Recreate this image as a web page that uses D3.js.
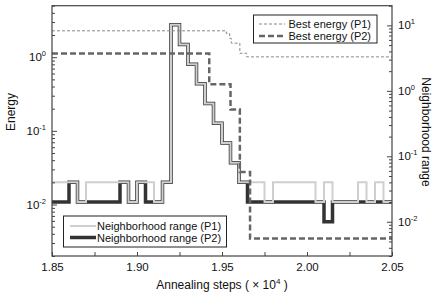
<!DOCTYPE html>
<html><head><meta charset="utf-8">
<script src="https://cdn.jsdelivr.net/npm/d3@7"></script>
<style>
body{margin:0;background:#fff;}
text{font-family:"Liberation Sans",Arial,sans-serif;fill:#111;}
</style></head>
<body><svg id="c" width="432" height="298"></svg>
<script>
// ---- data ----
const xTicks = [1.85, 1.875, 1.90, 1.925, 1.95, 1.975, 2.00, 2.025, 2.05];
const xLabels = ["1.85", "1.90", "1.95", "2.00", "2.05"];
const leftMajor = [0.01, 0.1, 1];
const leftExp = ["-2", "-1", "0"];
const rightMajor = [0.01, 0.1, 1, 10];
const rightExp = ["-2", "-1", "0", "1"];

// Best energy (step-after breakpoints): [annealing step (x10^4), energy]
const bestP1X = [1.85, 1.9525, 1.9545, 1.9555, 1.9605, 1.9645, 2.05];
const bestP1Y = [2.28, 2.1, 1.8, 1.55, 1.13, 1.01, 1.01];
const bestP2X = [1.85, 1.9425, 1.955, 1.9605, 1.9665, 2.05];
const bestP2Y = [1.12, 0.43, 0.195, 0.0277, 0.00345, 0.00345];

// Neighborhood range (step-after breakpoints)
const nbP1X = [1.85, 1.865, 1.87, 1.895, 1.90, 1.91, 1.915, 1.92, 1.925, 1.93, 1.935, 1.94, 1.945, 1.95, 1.955, 1.96,
  1.975, 1.98, 2.005, 2.01, 2.015, 2.03, 2.035, 2.04, 2.045, 2.05];
const nbP1Y = [0.04, 0.02, 0.04, 0.02, 0.04, 0.02, 0.04, 10.24, 5.12, 2.56, 1.28, 0.64, 0.32, 0.16, 0.08, 0.04,
  0.02, 0.04, 0.02, 0.04, 0.02, 0.04, 0.02, 0.04, 0.02, 0.02];
const nbP2X = [1.85, 1.86, 1.865, 1.89, 1.895, 1.90, 1.905, 1.915, 1.92, 1.925, 1.93, 1.935, 1.94, 1.945, 1.95, 1.955, 1.96,
  1.965, 2.01, 2.015, 2.05];
const nbP2Y = [0.02, 0.04, 0.02, 0.04, 0.02, 0.04, 0.02, 0.04, 10.24, 5.12, 2.56, 1.28, 0.64, 0.32, 0.16, 0.08, 0.04,
  0.02, 0.01, 0.02, 0.02];

// ---- layout ----
const svg = d3.select("#c");
const L = 52, R = 392, T = 5.7, B = 256;
const x = d3.scaleLinear().domain([1.85, 2.05]).range([L, R]);
const yL = d3.scaleLog().domain([0.002, 5]).range([B, T]);
const yR = d3.scaleLog().domain([0.003, 20]).range([B, T]);

const zip = (xs, ys) => xs.map((v, i) => [v, ys[i]]);
const stepL = d3.line().curve(d3.curveStepAfter).x(d => x(d[0])).y(d => yL(d[1]));
const stepR = d3.line().curve(d3.curveStepAfter).x(d => x(d[0])).y(d => yR(d[1]));

const plot = svg.append("g");
plot.append("path").datum(zip(nbP2X, nbP2Y)).attr("d", stepR)
  .attr("fill", "none").attr("stroke", "#333").attr("stroke-width", 3.5);
plot.append("path").datum(zip(nbP1X, nbP1Y)).attr("d", stepR)
  .attr("fill", "none").attr("stroke", "#cfcfcf").attr("stroke-width", 2);
plot.append("path").datum(zip(bestP1X, bestP1Y)).attr("d", stepL)
  .attr("fill", "none").attr("stroke", "#888").attr("stroke-width", 1).attr("stroke-dasharray", "3,2");
plot.append("path").datum(zip(bestP2X, bestP2Y)).attr("d", stepL)
  .attr("fill", "none").attr("stroke", "#666").attr("stroke-width", 2.5).attr("stroke-dasharray", "6,3");

// ---- axes ----
const axCol = "#444";
const gx = svg.append("g").attr("transform", `translate(0,${B})`)
  .call(d3.axisBottom(x).tickValues(xTicks).tickSize(-4).tickPadding(7)
    .tickFormat(d => { const s = d3.format(".2f")(d); return xLabels.includes(s) ? s : ""; }));
const gl = svg.append("g").attr("transform", `translate(${L},0)`)
  .call(d3.axisLeft(yL).tickValues(yL.ticks()).tickSize(-3).tickFormat(""));
const gr = svg.append("g").attr("transform", `translate(${R},0)`)
  .call(d3.axisRight(yR).tickValues(yR.ticks()).tickSize(-3).tickFormat(""));
[gx, gl, gr].forEach(g => {
  g.select(".domain").remove();
  g.selectAll("line").attr("stroke", axCol);
  g.selectAll("text").attr("font-size", 11.5).attr("fill", "#111").attr("font-family", "Liberation Sans, Arial, sans-serif");
});
gl.selectAll(".tick line").filter(d => leftMajor.includes(d)).attr("x2", 5);
gr.selectAll(".tick line").filter(d => rightMajor.includes(d)).attr("x2", -5);
gx.selectAll(".tick line").attr("y2", -4);

svg.append("rect").attr("x", L).attr("y", T).attr("width", R - L).attr("height", B - T)
  .attr("fill", "none").attr("stroke", axCol).attr("stroke-width", 1.2);

// log labels
leftMajor.forEach((v, i) => {
  const t = svg.append("text").attr("x", L - 6).attr("y", yL(v) + 4).attr("text-anchor", "end").attr("font-size", 11.5);
  t.append("tspan").text("10");
  t.append("tspan").attr("font-size", 7.5).attr("dy", -5).text(leftExp[i]);
});
rightMajor.forEach((v, i) => {
  const t = svg.append("text").attr("x", R + 6).attr("y", yR(v) + 4).attr("text-anchor", "start").attr("font-size", 11.5);
  t.append("tspan").text("10");
  t.append("tspan").attr("font-size", 7.5).attr("dy", -5).text(rightExp[i]);
});

// axis titles
svg.append("text").attr("transform", "translate(15,112) rotate(-90)").attr("text-anchor", "middle")
  .attr("font-size", 12).text("Energy");
svg.append("text").attr("transform", "translate(422,132) rotate(90)").attr("text-anchor", "middle")
  .attr("font-size", 12).text("Neighborhood range");
const xt = svg.append("text").attr("x", 222).attr("y", 289).attr("text-anchor", "middle").attr("font-size", 12);
xt.append("tspan").text("Annealing steps ( \u00d7 10");
xt.append("tspan").attr("font-size", 8).attr("dy", -5).text("4");
xt.append("tspan").attr("dy", 5).text(" )");

// legends
const lg1 = svg.append("g");
lg1.append("rect").attr("x", 253.5).attr("y", 15).attr("width", 123.5).attr("height", 28)
  .attr("fill", "#fff").attr("stroke", "#222").attr("stroke-width", 1);
lg1.append("line").attr("x1", 259).attr("x2", 285).attr("y1", 24).attr("y2", 24)
  .attr("stroke", "#888").attr("stroke-width", 1).attr("stroke-dasharray", "3,2");
lg1.append("line").attr("x1", 259).attr("x2", 285).attr("y1", 36).attr("y2", 36)
  .attr("stroke", "#666").attr("stroke-width", 2.5).attr("stroke-dasharray", "6,3");
lg1.append("text").attr("x", 288.5).attr("y", 28).attr("font-size", 11).text("Best energy (P1)");
lg1.append("text").attr("x", 288.5).attr("y", 40).attr("font-size", 11).text("Best energy (P2)");

const lg2 = svg.append("g");
lg2.append("rect").attr("x", 63.5).attr("y", 216).attr("width", 163).attr("height", 31)
  .attr("fill", "#fff").attr("stroke", "#222").attr("stroke-width", 1);
lg2.append("line").attr("x1", 70).attr("x2", 96).attr("y1", 226).attr("y2", 226)
  .attr("stroke", "#cfcfcf").attr("stroke-width", 2);
lg2.append("line").attr("x1", 70).attr("x2", 96).attr("y1", 237.5).attr("y2", 237.5)
  .attr("stroke", "#333").attr("stroke-width", 3.5);
lg2.append("text").attr("x", 97).attr("y", 230).attr("font-size", 11).text("Neighborhood range (P1)");
lg2.append("text").attr("x", 97).attr("y", 241.5).attr("font-size", 11).text("Neighborhood range (P2)");
</script></body></html>
